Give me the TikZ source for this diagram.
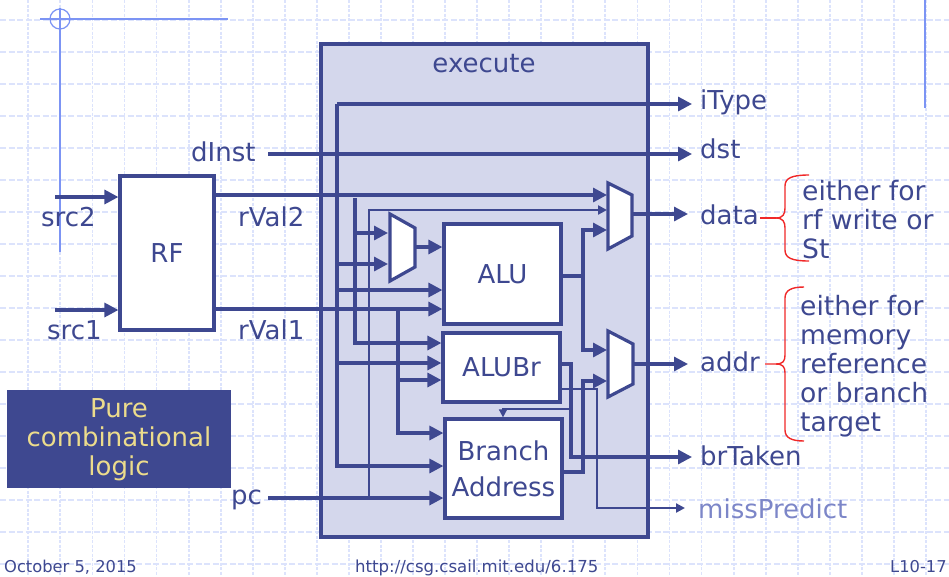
\documentclass[tikz,border=0pt]{standalone}
\usepackage{fontspec}
\setmainfont{DejaVu Sans}
\usetikzlibrary{positioning,arrows.meta}

\definecolor{inkblue}{HTML}{3E4890}
\definecolor{panelblue}{HTML}{D4D7EC}
\definecolor{gridblue}{HTML}{DCE3FC}
\definecolor{ruleblue}{HTML}{7C94F4}
\definecolor{paleink}{HTML}{7C86C8}
\definecolor{noteyellow}{HTML}{ECDC8C}
\definecolor{notered}{HTML}{F02828}

\begin{document}
\begin{tikzpicture}[
    x=1pt, y=-1pt,
    block/.style={rectangle, draw=inkblue, line width=3.2pt, fill=white, text=inkblue, align=center, font=\fontsize{26}{36}\selectfont, inner sep=0pt},
    muxbox/.style={draw=inkblue, line width=3.2pt, fill=white, line join=miter},
    wire/.style={-{Triangle[length=14pt,width=14pt]}, draw=inkblue, line width=3.2pt},
    plainwire/.style={draw=inkblue, line width=3.2pt},
    midwire/.style={-{Triangle[length=9pt,width=9pt]}, draw=inkblue, line width=2.8pt},
    thinwire/.style={-{Triangle[length=8pt,width=8pt]}, draw=inkblue, line width=1.6pt},
    sig/.style={text=inkblue, font=\fontsize{26}{30}\selectfont, anchor=west, inner sep=0pt, text height=19pt, text depth=6pt},
    note/.style={text=inkblue, font=\fontsize{26.6}{29}\selectfont, align=left, anchor=north west, inner sep=0pt},
    foot/.style={text=inkblue, font=\fontsize{16.3}{18}\selectfont, inner sep=0pt, anchor=base west},
    bracered/.style={draw=notered, line width=1.4pt}
]
    \useasboundingbox (0,0) rectangle (949,576);
    % sheet
    \foreach \gx in {0,...,28}
        \draw[gridblue, line width=1.8pt, dash pattern=on 3pt off 1.5pt] ({28.3+32.06*\gx},0) -- ({28.3+32.06*\gx},576);
    \foreach \gy in {0,...,17}
        \draw[gridblue, line width=1.2pt, dash pattern=on 6pt off 2.5pt] (0,{20+32*\gy}) -- (949,{20+32*\gy});
    \draw[ruleblue, line width=2.4pt] (60,8) -- (60,252);
    \draw[ruleblue, line width=1.2pt] (40,19) -- (228,19);
    \draw[ruleblue, line width=1.2pt] (60,19) circle[radius=10];
    \draw[ruleblue, line width=2.8pt] (925,0) -- (925,108);

    % panel and blocks
    \node[draw=inkblue, line width=3.2pt, fill=panelblue, minimum width=327pt, minimum height=493pt, inner sep=0pt] (execute) at (484.5,290.5) {};
    \node[text=inkblue, font=\fontsize{26}{30}\selectfont, inner sep=0pt] (executeLabel) at (484,64) {execute};
    \node[block, minimum width=94pt, minimum height=154pt] (rf) at (167,253) {RF};
    \node[block, minimum width=117pt, minimum height=100pt] (alu) at (502.5,274) {ALU};
    \node[block, minimum width=117pt, minimum height=69pt] (alubr) at (501.5,367.5) {ALUBr};
    \node[block, minimum width=117pt, minimum height=99pt] (branch) at (503.5,468.5) {Branch\\Address};

    % muxes
    \draw[muxbox] (390,214) -- (415,228) -- (415,267) -- (390,281) -- cycle;
    \draw[muxbox] (608,183) -- (632,195) -- (632,236) -- (608,249) -- cycle;
    \draw[muxbox] (608,331) -- (633,344) -- (633,384) -- (608,397) -- cycle;

    % output labels
    \node[sig] (iType) at (700,103) {iType};
    \node[sig] (dst) at (700,152) {dst};
    \node[sig] (data) at (700,218) {data};
    \node[sig] (addr) at (700,365) {addr};
    \node[sig] (brTaken) at (700,459) {brTaken};
    \node[sig, text=paleink] (missPredict) at (698,512) {missPredict};
    \node[sig] (dInst) at (191,155) {dInst};
    \node[sig] (rVal2) at (238,220) {rVal2};
    \node[sig] (rVal1) at (238,333) {rVal1};
    \node[sig] (src2) at (41,220) {src2};
    \node[sig] (src1) at (47,333) {src1};
    \node[sig] (pc) at (231,498) {pc};

    % free ends and pins
    \coordinate (src2In) at (55,197);
    \coordinate (src1In) at (55,310);
    \coordinate (rf2) at (214,195);
    \coordinate (rf1) at (214,309);
    \coordinate (dInstOut) at (268,154);
    \coordinate (pcOut) at (268,498);
    \coordinate (iTypeBus) at (337,104);
    \coordinate (busTop) at (355,198);
    \coordinate (pcBus) at (369,498);
    \coordinate (bypassTop) at (369,210);
    \coordinate (val1Bus) at (398,309);
    \coordinate (aluOut) at (583,276);
    \coordinate (brOut) at (583,472);
    \coordinate (takenBus) at (571,364);
    \coordinate (takenTap) at (571,409);
    \coordinate (missBus) at (597,389);

    % register file
    \draw[wire] (src2In) -- (rf.west |- src2In);
    \draw[wire] (src1In) -- (rf.west |- src1In);
    \draw[wire] (rf2) -- (607,195);
    \draw[wire] (rf1) -- (alu.west |- rf1);
    \draw[wire] (dInstOut) -- (692,154);

    % operand buses
    \draw[wire] (iTypeBus) -- (692,104);
    \draw[wire] (iTypeBus) -- (337,466) -- (branch.west |- 0,466);
    \draw[wire] (337,264) -- (388,264);
    \draw[wire] (337,290) -- (alu.west |- 0,290);
    \draw[wire] (337,363) -- (alubr.west |- 0,363);
    \draw[wire] (busTop) -- (355,343) -- (alubr.west |- 0,343);
    \draw[wire] (355,233) -- (388,233);
    \draw[midwire] (pcBus) -- (bypassTop) -- (607,210);
    \draw[wire] (pcOut) -- (branch.west |- pcOut);
    \draw[wire] (val1Bus) -- (398,433) -- (branch.west |- 0,433);
    \draw[wire] (398,380) -- (alubr.west |- 0,380);

    % block outputs
    \draw[wire] (415,247) -- (alu.west |- 0,247);
    \draw[plainwire] (alu.east |- aluOut) -- (aluOut);
    \draw[wire] (aluOut) -- (583,230) -- (607,230);
    \draw[wire] (aluOut) -- (583,350) -- (607,350);
    \draw[wire] (alubr.east |- takenBus) -- (takenBus) -- (571,457) -- (692,457);
    \draw[thinwire] (takenTap) -- (503,409) -- (branch.north -| 503,0);
    \draw[midwire] (alubr.east |- missBus) -- (missBus) -- (597,508) -- (685,508);
    \draw[wire] (branch.east |- brOut) -- (brOut) -- (583,381) -- (607,381);
    \draw[wire] (632,214) -- (688,214);
    \draw[wire] (633,364) -- (688,364);

    % notes
    \draw[bracered, line width=2.4pt] (760,218) -- (776,218);
    \draw[bracered] (776,218) .. controls (783,218) and (785,214) .. (785,208) -- (785,186) .. controls (785,178) and (792,175) .. (809,175);
    \draw[bracered] (776,218) .. controls (783,218) and (785,222) .. (785,228) -- (785,250) .. controls (785,258) and (792,261) .. (809,261);
    \draw[bracered] (765,364) -- (776,364) .. controls (783,364) and (785,361) .. (785,355) -- (785,298) .. controls (785,290) and (792,287) .. (804,287);
    \draw[bracered] (776,364) .. controls (783,364) and (785,367) .. (785,373) -- (785,430) .. controls (785,438) and (792,441) .. (804,441);
    \node[note] (dataNote) at (802,180) {either for\\rf write or\\St};
    \node[note] (addrNote) at (800,295) {either for\\memory\\reference\\or branch\\target};

    % callout and footer
    \node[fill=inkblue, minimum width=224pt, minimum height=98pt, inner sep=0pt] (pure) at (119,439) {};
    \node[text=noteyellow, align=center, font=\fontsize{26}{29}\selectfont, inner sep=0pt] (pureText) at (119,439.5) {Pure\\combinational\\logic};
    \node[foot] (date) at (4,572) {October 5, 2015};
    \node[foot, font=\fontsize{16.55}{18}\selectfont] (url) at (355,572) {http://csg.csail.mit.edu/6.175};
    \node[foot] (page) at (890,572) {L10-17};
\end{tikzpicture}
\end{document}
